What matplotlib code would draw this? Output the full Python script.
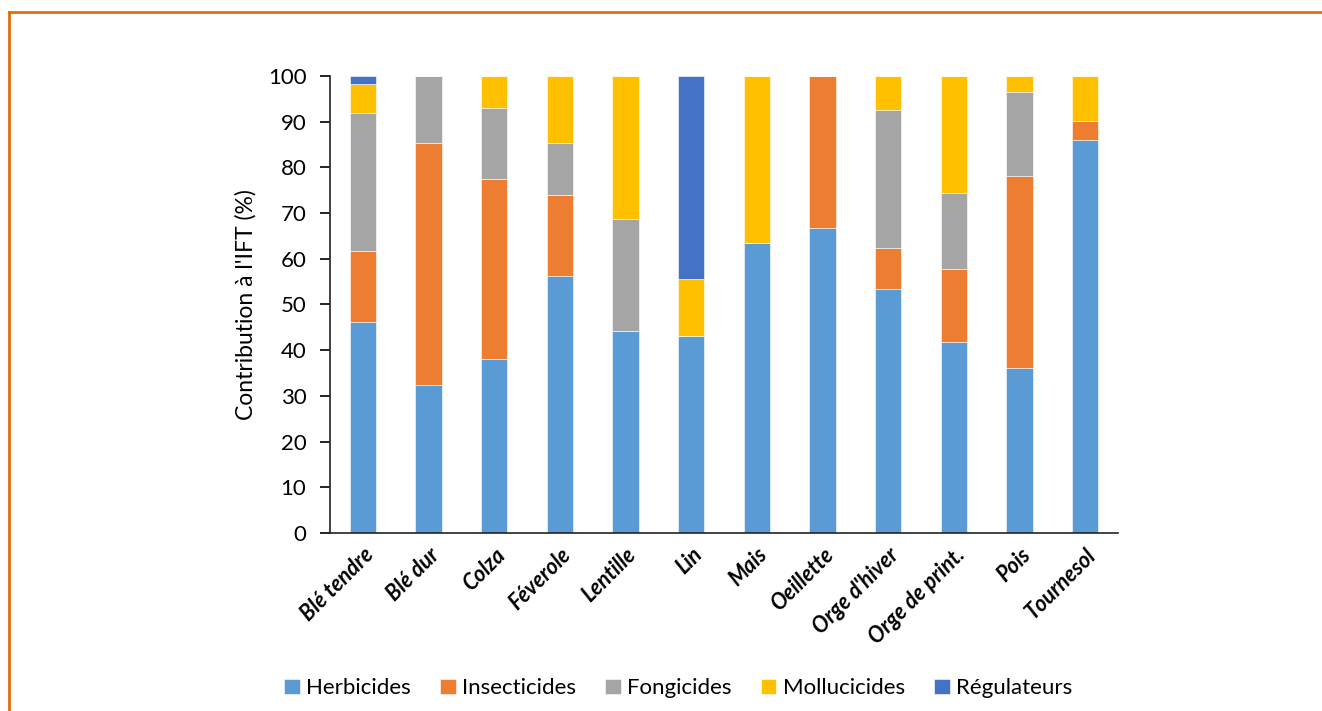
import numpy as np
import matplotlib.pyplot as plt
from matplotlib.lines import Line2D

plt.rcParams['font.family'] = ['Lato', 'DejaVu Sans']

cultures = ['Blé tendre', 'Blé dur', 'Colza', 'Féverole', 'Lentille', 'Lin', 'Mais',
            'Oeillette', "Orge d'hiver", 'Orge de print.', 'Pois', 'Tournesol']

# contribution of each product family to the IFT (%)
herbicides   = [46.2, 32.3, 38.0, 56.3, 44.2, 43.0, 63.5, 66.7, 53.3, 41.7, 36.0, 86.1]
insecticides = [15.5, 53.1, 39.5, 17.6, 0.0, 0.0, 0.0, 33.3, 9.1, 16.0, 42.2, 4.1]
fongicides   = [30.2, 14.6, 15.6, 11.5, 24.5, 0.0, 0.0, 0.0, 30.2, 16.7, 18.3, 0.0]
mollucicides = [6.3, 0.0, 6.9, 14.6, 31.3, 12.6, 36.5, 0.0, 7.4, 25.6, 3.5, 9.8]
regulateurs  = [1.8, 0.0, 0.0, 0.0, 0.0, 44.4, 0.0, 0.0, 0.0, 0.0, 0.0, 0.0]

series = [('Herbicides', herbicides, '#5B9BD5'),
          ('Insecticides', insecticides, '#ED7D31'),
          ('Fongicides', fongicides, '#A5A5A5'),
          ('Mollucicides', mollucicides, '#FFC000'),
          ('Régulateurs', regulateurs, '#4472C4')]

fig = plt.figure(figsize=(13.22, 7.11), dpi=100)
ax = fig.add_axes([0.2496, 0.2504, 0.5961, 0.6427])

x = np.arange(len(cultures))
bottom = np.zeros(len(cultures))
for name, vals, col in series:
    vals = np.array(vals)
    ax.bar(x, vals, 0.4, bottom=bottom, color=col, label=name,
           edgecolor='white', linewidth=0.4)
    bottom += vals

ax.set_xlim(-0.5, len(cultures) - 0.5)
ax.set_ylim(0, 100)
ax.set_yticks(np.arange(0, 101, 10))
ax.tick_params(axis='y', labelsize=16, length=7, width=1.2, direction='out', pad=10)
ax.tick_params(axis='x', length=0, pad=8)
ax.set_xticks(x)
ax.set_xticklabels(cultures, rotation=45, ha='right', rotation_mode='anchor',
                   fontsize=15.5, fontweight='bold', fontstyle='italic')
for s in ['top', 'right']:
    ax.spines[s].set_visible(False)
for s in ['left', 'bottom']:
    ax.spines[s].set_linewidth(1.2)
    ax.spines[s].set_color('#222222')
ax.set_ylabel("Contribution à l'IFT (%)", fontsize=16.5, labelpad=8)

ax.legend(loc='center', bbox_to_anchor=(0.442, -0.34), ncol=5, frameon=False,
          fontsize=16, handlelength=0.7, handleheight=0.7, handletextpad=0.3,
          columnspacing=1.3)

# orange frame around the figure
fig.add_artist(Line2D([9 / 1322, 1], [1 - 12 / 711, 1 - 12 / 711],
                      transform=fig.transFigure, color='#E36C0A', lw=2))
fig.add_artist(Line2D([9 / 1322, 9 / 1322], [0, 1 - 12 / 711],
                      transform=fig.transFigure, color='#E36C0A', lw=2))

fig.savefig('out.png', dpi=100)
